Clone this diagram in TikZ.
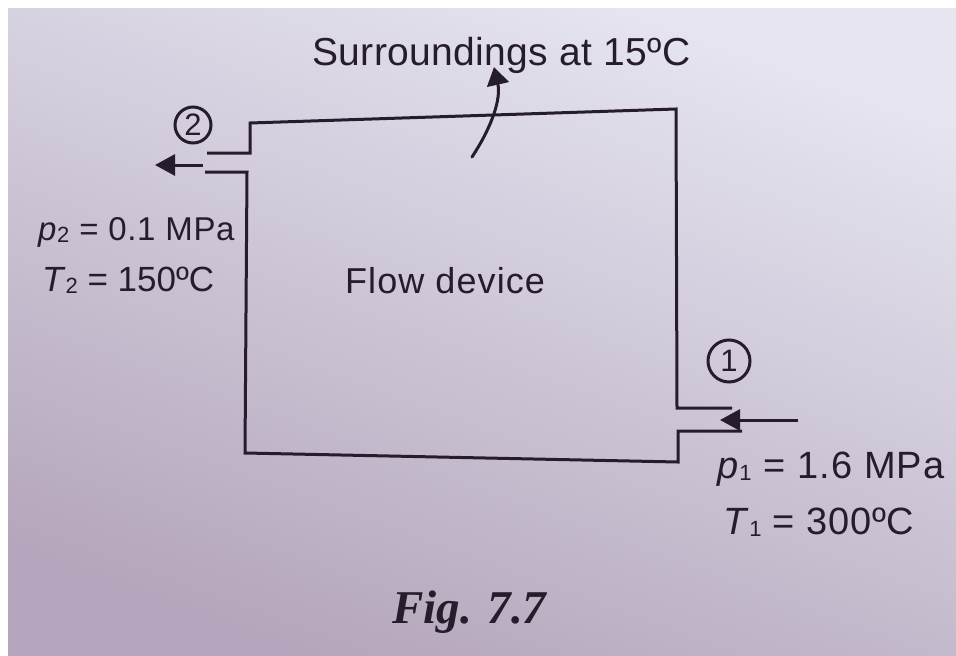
\documentclass[tikz,border=0pt]{standalone}
\usepackage{fontspec}
\setmainfont{Liberation Sans}
\newfontfamily\figfont{Liberation Serif}
\usetikzlibrary{arrows.meta}
\definecolor{ink}{HTML}{261C2C}
\definecolor{paperlight}{HTML}{E6E5F0}
\definecolor{papermid}{HTML}{D3CDDC}
\definecolor{paperdark}{HTML}{B4A6BC}
\newcommand\stsub[1]{\raisebox{-2pt}{\fontsize{22}{22}\selectfont #1}}
\begin{document}
\begin{tikzpicture}[x=1pt,y=-1pt,
  wall/.style={draw=ink,line width=3pt,line join=miter},
  flowarrow/.style={draw=ink,line width=3pt,-{Triangle[length=20pt,width=21pt]}},
  lbl/.style={inner sep=0pt,anchor=base west,text=ink},
  statecircle/.style={circle,draw=ink,line width=3pt,minimum size=36pt,inner sep=0pt,text=ink,font=\fontsize{31}{31}\selectfont}
]
\useasboundingbox (0,0) rectangle (956,656);
\fill[white] (0,0) rectangle (956,656);
\shade[top color=paperlight,middle color=papermid,bottom color=paperdark,shading angle=-20] (8,8) rectangle (956,656);

% walls of the flow device
\coordinate (o2u) at (207,153);
\coordinate (tl1) at (250,153);
\coordinate (tl) at (250,123);
\coordinate (tr) at (676,109);
\coordinate (ri1) at (677,408);
\coordinate (i1u) at (732,408);
\coordinate (i1l) at (742,431);
\coordinate (ri2) at (678,431);
\coordinate (br) at (678,462);
\coordinate (bl) at (245,453);
\coordinate (lo2) at (247,172);
\coordinate (o2l) at (205,172);
\draw[wall] (o2u) -- (tl1) -- (tl) -- (tr) -- (ri1) -- (i1u);
\draw[wall] (i1l) -- (ri2) -- (br) -- (bl) -- (lo2) -- (o2l);

% flow arrows
\coordinate (outtail) at (203,165);
\coordinate (outtip) at (155,165);
\coordinate (intail) at (798,420);
\coordinate (intip) at (720,420);
\draw[flowarrow] (outtail) -- (outtip);
\draw[flowarrow] (intail) -- (intip);

% heat to surroundings
\coordinate (qstart) at (472,157);
\coordinate (qtip) at (494,67);
\draw[draw=ink,line width=3pt,line cap=round,-{Triangle[length=18pt,width=22pt]}] (qstart) .. controls (493,125) and (501,98) .. (qtip);

% state circles
\node[statecircle] (s2) at (193,125) {2};
\node[statecircle,minimum size=42pt] (s1) at (729,361) {1};

% labels
\node[lbl,font=\fontsize{39}{39}\selectfont\addfontfeatures{LetterSpace=1}] (surr) at (312,65) {Surroundings at 15ºC};
\node[lbl,font=\fontsize{36}{36}\selectfont\addfontfeatures{LetterSpace=3}] (dev) at (345,293) {Flow device};
\node[lbl,font=\fontsize{33}{33}\selectfont\addfontfeatures{LetterSpace=2}] (p2) at (38,240) {\textit{p}\stsub{2} = 0.1 MPa};
\node[lbl,font=\fontsize{35}{35}\selectfont] (T2) at (42,291) {\textit{T}\stsub{2} = 150ºC};
\node[lbl,font=\fontsize{38}{38}\selectfont\addfontfeatures{LetterSpace=3}] (p1) at (717,478) {\textit{p}\stsub{1} = 1.6 MPa};
\node[lbl,font=\fontsize{38}{38}\selectfont\addfontfeatures{LetterSpace=2}] (T1) at (723,534) {\textit{T}\stsub{1} = 300ºC};
\node[lbl,font=\fontsize{47}{47}\selectfont\figfont\bfseries\itshape] (fig) at (392,623) {Fig. 7.7};
\end{tikzpicture}
\end{document}
